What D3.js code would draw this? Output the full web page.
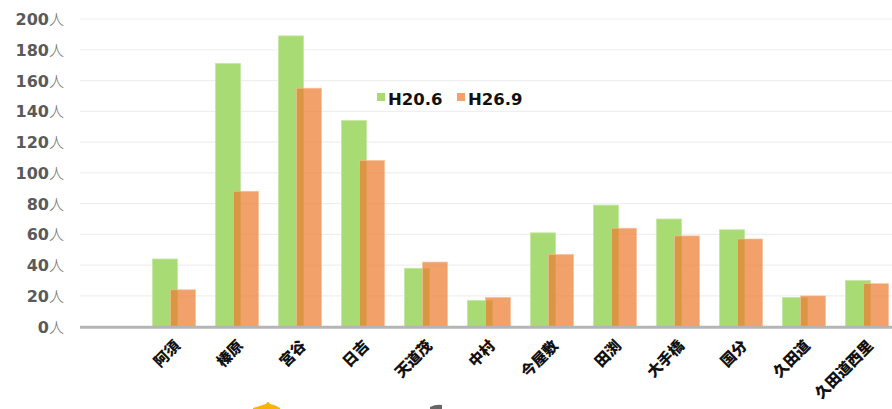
<!DOCTYPE html>
<html><head><meta charset="utf-8">
<script src="https://cdn.jsdelivr.net/npm/d3@7"></script>
<style>
html,body{margin:0;padding:0;background:#fff;}
svg{display:block;}
</style></head>
<body>
<svg id="c" width="892" height="409"></svg>
<script>
const categories = ["阿須","榛原","宮谷","日吉","天道茂","中村","今屋敷","田渕","大手橋","国分","久田道","久田道西里"];
const seriesNames = ["H20.6","H26.9"];
const h20 = [44,171,189,134,38,17,61,79,70,63,19,30];
const h26 = [24,88,155,108,42,19,47,64,59,57,20,28];
const yTicks = [0,20,40,60,80,100,120,140,160,180,200];

const svg = d3.select("#c");
const x = d3.scaleBand().domain([""].concat(categories)).range([80, 899]).padding(0);
const y = d3.scaleLinear().domain([0,200]).range([326.7, 19]);

// grid
svg.append("g").selectAll("line").data(yTicks.filter(d=>d>0)).join("line")
  .attr("x1",80).attr("x2",892).attr("y1",d=>y(d)).attr("y2",d=>y(d))
  .attr("stroke","#efefef").attr("stroke-width",1.2);

// y labels
const yl = svg.append("g").selectAll("text").data(yTicks).join("text")
  .attr("x",64).attr("y",d=>y(d)+6).attr("text-anchor","end")
  .attr("font-family","'DejaVu Sans', sans-serif").attr("font-size",16).attr("fill","#555");
yl.append("tspan").attr("font-weight",700).attr("fill","#5a5a5a").text(d=>d);
yl.append("tspan").attr("font-family","'Noto Sans CJK JP'").attr("font-weight",300).attr("fill","#777").attr("font-size",15).text("人");

const bw = 25;
const green = "#a8db74", orange = "rgba(237,125,49,0.72)";
svg.append("g").selectAll("rect").data(categories).join("rect")
  .attr("x",(d)=>x(d)+x.bandwidth()/2-22).attr("width",bw)
  .attr("y",(d,i)=>y(h20[i])).attr("height",(d,i)=>y(0)-y(h20[i]))
  .attr("fill",green).attr("stroke","#c3e6a2").attr("stroke-width",0.8);
svg.append("g").selectAll("rect").data(categories).join("rect")
  .attr("x",(d)=>x(d)+x.bandwidth()/2-4).attr("width",bw)
  .attr("y",(d,i)=>y(h26[i])).attr("height",(d,i)=>y(0)-y(h26[i]))
  .attr("fill",orange).attr("stroke","rgba(245,190,150,0.8)").attr("stroke-width",0.8);

// axis line
svg.append("line").attr("x1",80).attr("x2",892).attr("y1",y(0)+0.5).attr("y2",y(0)+0.5)
  .attr("stroke","#b5b5b5").attr("stroke-width",3);

// x labels
svg.append("g").selectAll("text").data(categories).join("text")
  .attr("transform",d=>`translate(${x(d)+x.bandwidth()/2+3},${343}) rotate(-45)`)
  .attr("text-anchor","end").attr("dy","0.35em")
  .attr("font-family","'Noto Sans CJK JP', sans-serif").attr("font-weight",900)
  .attr("font-size",15).attr("fill","#111").text(d=>d);

// legend
const lg = svg.append("g");
const lx = [377, 457];
const lc = [green, "#f2a36c"];
seriesNames.forEach((s,i)=>{
  lg.append("rect").attr("x",lx[i]).attr("y",93).attr("width",8).attr("height",8).attr("fill",lc[i]);
  lg.append("text").attr("x",lx[i]+11).attr("y",104.5).attr("font-family","'DejaVu Sans', sans-serif")
    .attr("font-weight",700).attr("font-size",16.5).attr("fill","#111").text(s);
});

// bottom decorations (partial images)
svg.append("path").attr("d","M253,408 Q262,405 266,404 Q268,400 270,404 Q276,405 280,408 L280,409 L253,409 Z").attr("fill","#f7b500");
svg.append("path").attr("d","M430,407 Q436,404 442,405 L442,409 L430,409 Z").attr("fill","#666");
</script>
</body></html>
